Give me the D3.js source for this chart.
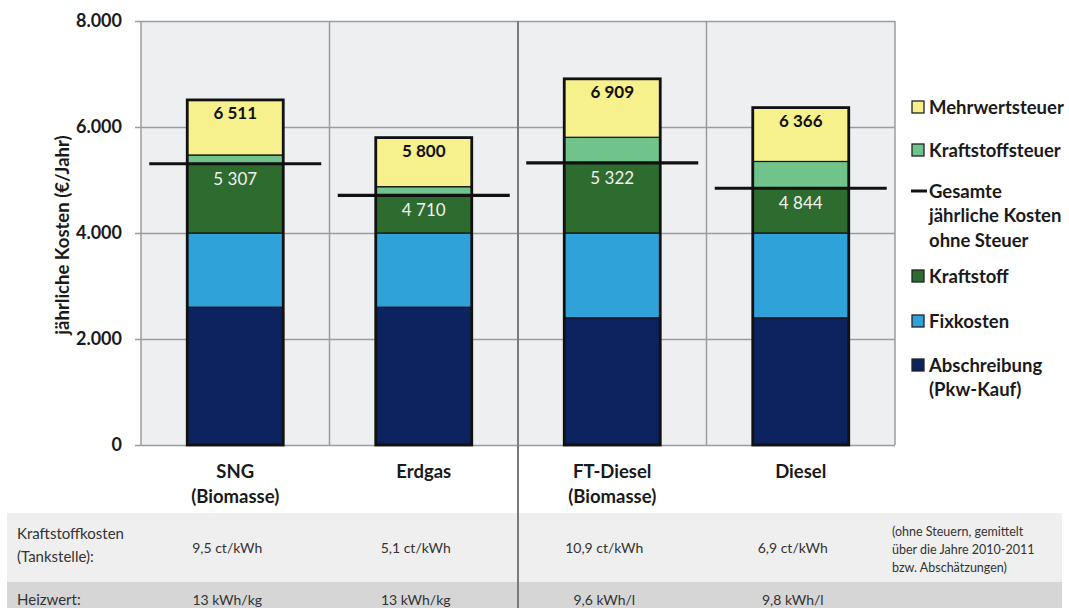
<!DOCTYPE html>
<html>
<head>
<meta charset="utf-8">
<script src="https://cdn.jsdelivr.net/npm/d3@7"></script>
<style>
  body { margin: 0; background: #fff; }
  text { font-family: Lato, "Open Sans", sans-serif; }
</style>
</head>
<body>
<div id="chart"></div>
<script>
// values (€/Jahr)
let categories = ['SNG', 'Erdgas', 'FT-Diesel', 'Diesel'];
let categoryLines = [['SNG', '(Biomasse)'], ['Erdgas'], ['FT-Diesel', '(Biomasse)'], ['Diesel']];
let abschreibung     = [2600, 2600, 2400, 2400];
let fixkosten        = [1400, 1400, 1600, 1600];
let kraftstoff       = [1307,  710, 1322,  844];
let kraftstoffsteuer = [ 165,  164,  484,  506];
let mehrwertsteuer   = [1039,  926, 1103, 1016];
let yTicks = [0, 2000, 4000, 6000, 8000];

let kraftstoffkosten = ['9,5 ct/kWh', '5,1 ct/kWh', '10,9 ct/kWh', '6,9 ct/kWh'];
let heizwert = ['13 kWh/kg', '13 kWh/kg', '9,6 kWh/l', '9,8 kWh/l'];
let tableNote = ['(ohne Steuern, gemittelt', 'über die Jahre 2010-2011', 'bzw. Abschätzungen)'];

let keys = ['Abschreibung', 'Fixkosten', 'Kraftstoff', 'Kraftstoffsteuer', 'Mehrwertsteuer'];
let colors = ['#0c2360', '#30a2da', '#2e6b2f', '#70c38a', '#f6f08d'];

let legendItems = [
    {lines: ['Mehrwertsteuer'], color: '#f6f08d'},
    {lines: ['Kraftstoffsteuer'], color: '#70c38a'},
    {lines: ['Gesamte', 'jährliche Kosten', 'ohne Steuer'], line: true},
    {lines: ['Kraftstoff'], color: '#2e6b2f'},
    {lines: ['Fixkosten'], color: '#30a2da'},
    {lines: ['Abschreibung', '(Pkw-Kauf)'], color: '#0c2360'}
];

// configuration of svg/plot area
let config = {
    svg: {width: 1069, height: 608},
    plot: {left: 141, right: 895, top: 21, bottom: 445}
};

let rows = categories.map((c, i) => ({
    cat: c,
    Abschreibung: abschreibung[i],
    Fixkosten: fixkosten[i],
    Kraftstoff: kraftstoff[i],
    Kraftstoffsteuer: kraftstoffsteuer[i],
    Mehrwertsteuer: mehrwertsteuer[i]
}));

let series = d3.stack().keys(keys)(rows);

let x = d3.scaleBand()
    .domain(categories)
    .range([config.plot.left, config.plot.right]);

let y = d3.scaleLinear()
    .domain([0, 8000])
    .range([config.plot.bottom, config.plot.top]);

let color = d3.scaleOrdinal().domain(keys).range(colors);

let de = d3.formatLocale({decimal: ',', thousands: '.', grouping: [3], currency: ['', '€']});
let deSpace = d3.formatLocale({decimal: ',', thousands: ' ', grouping: [3], currency: ['', '€']});
let tickFmt = de.format(',d');
let valFmt = deSpace.format(',d');

let barW = 96;
let lineHalf = 86;

let svg = d3.select('#chart').append('svg')
    .attr('width', config.svg.width)
    .attr('height', config.svg.height);

// table rows below the chart
svg.append('rect').attr('x', 7).attr('y', 513).attr('width', 1055).attr('height', 69).attr('fill', '#efefef');
svg.append('rect').attr('x', 7).attr('y', 582).attr('width', 1055).attr('height', 26).attr('fill', '#d6d6d6');

// plot background
svg.append('rect')
    .attr('x', config.plot.left)
    .attr('y', config.plot.top)
    .attr('width', config.plot.right - config.plot.left)
    .attr('height', config.plot.bottom - config.plot.top)
    .attr('fill', '#eeeff1');

// horizontal grid + y axis
let yAxis = g => g
    .attr('transform', `translate(${config.plot.left},0)`)
    .call(d3.axisLeft(y).tickValues(yTicks).tickFormat(tickFmt)
        .tickSize(-(config.plot.right - config.plot.left)).tickPadding(19))
    .call(g => g.select('.domain').remove())
    .call(g => g.selectAll('.tick line').attr('stroke', '#9c9c9c').attr('stroke-width', 1.5).attr('x1', -6))
    .call(g => g.selectAll('.tick text')
        .attr('font-size', 18).attr('font-weight', 'bold').attr('fill', '#1a1a1a'));
svg.append('g').call(yAxis);

// vertical grid lines at band edges
let edges = categories.map(c => x(c)).concat([config.plot.right]);
svg.append('g')
    .selectAll('line')
    .data(edges)
    .join('line')
        .attr('x1', d => d).attr('x2', d => d)
        .attr('y1', config.plot.top)
        .attr('y2', (d, i) => i === 2 ? config.svg.height : config.plot.bottom)
        .attr('stroke', (d, i) => i === 2 ? '#7a7a7a' : '#9c9c9c')
        .attr('stroke-width', (d, i) => i === 2 ? 2 : 1.5);

// stacked bars
svg.append('g')
    .selectAll('g')
    .data(series)
    .join('g')
        .attr('fill', d => color(d.key))
    .selectAll('rect')
    .data(d => d)
    .join('rect')
        .attr('x', d => x(d.data.cat) + (x.bandwidth() - barW) / 2)
        .attr('y', d => y(d[1]))
        .attr('width', barW)
        .attr('height', d => y(d[0]) - y(d[1]))
        .attr('stroke', '#111')
        .attr('stroke-width', 1.2);

let totals = rows.map(r => d3.sum(keys, k => r[k]));
let ohneSteuer = rows.map(r => r.Abschreibung + r.Fixkosten + r.Kraftstoff);

// outline of each bar
svg.append('g')
    .selectAll('rect')
    .data(categories)
    .join('rect')
        .attr('x', c => x(c) + (x.bandwidth() - barW) / 2)
        .attr('y', (c, i) => y(totals[i]))
        .attr('width', barW)
        .attr('height', (c, i) => y(0) - y(totals[i]))
        .attr('fill', 'none')
        .attr('stroke', '#111')
        .attr('stroke-width', 2.8);

// total cost without taxes line
svg.append('g')
    .selectAll('line')
    .data(categories)
    .join('line')
        .attr('x1', c => x(c) + x.bandwidth() / 2 - lineHalf)
        .attr('x2', c => x(c) + x.bandwidth() / 2 + lineHalf)
        .attr('y1', (c, i) => y(ohneSteuer[i]))
        .attr('y2', (c, i) => y(ohneSteuer[i]))
        .attr('stroke', '#111')
        .attr('stroke-width', 3.2);

// labels on bars
svg.append('g')
    .selectAll('text')
    .data(categories)
    .join('text')
        .attr('x', c => x(c) + x.bandwidth() / 2)
        .attr('y', (c, i) => y(totals[i]) + 19)
        .attr('text-anchor', 'middle')
        .attr('font-size', 17)
        .attr('font-weight', 'bold')
        .attr('fill', '#111')
        .text((c, i) => valFmt(totals[i]));

svg.append('g')
    .selectAll('text')
    .data(categories)
    .join('text')
        .attr('x', c => x(c) + x.bandwidth() / 2)
        .attr('y', (c, i) => y(ohneSteuer[i]) + 21)
        .attr('text-anchor', 'middle')
        .attr('font-size', 17)
        .attr('fill', '#f2f2f2')
        .text((c, i) => valFmt(ohneSteuer[i]));

// category labels
svg.append('g')
    .selectAll('text')
    .data(categories)
    .join('text')
        .attr('x', c => x(c) + x.bandwidth() / 2)
        .attr('y', 478)
        .attr('text-anchor', 'middle')
        .attr('font-size', 18.5)
        .attr('font-weight', 'bold')
        .attr('fill', '#1a1a1a')
    .selectAll('tspan')
    .data((c, i) => categoryLines[i])
    .join('tspan')
        .attr('x', function() { return this.parentNode.getAttribute('x'); })
        .attr('dy', (d, j) => j === 0 ? 0 : 25)
        .text(d => d);

// y axis title
svg.append('text')
    .attr('transform', 'translate(69,235) rotate(-90)')
    .attr('text-anchor', 'middle')
    .attr('font-size', 18.5)
    .attr('font-weight', 'bold')
    .attr('fill', '#1a1a1a')
    .text('jährliche Kosten (€/Jahr)');

// legend
let legendY = [107, 150, 191, 276, 321, 365];
let legend = svg.append('g')
    .selectAll('g')
    .data(legendItems)
    .join('g')
        .attr('transform', (d, i) => `translate(912,${legendY[i]})`);

legend.filter(d => !d.line).append('rect')
    .attr('x', 0).attr('y', -6)
    .attr('width', 12).attr('height', 12)
    .attr('fill', d => d.color)
    .attr('stroke', '#222').attr('stroke-width', 1.3);

legend.filter(d => d.line).append('line')
    .attr('x1', -1).attr('x2', 15)
    .attr('stroke', '#111').attr('stroke-width', 3);

legend.append('text')
    .attr('x', 17)
    .attr('y', 6.5)
    .attr('font-size', 18.5)
    .attr('font-weight', 'bold')
    .attr('fill', '#1a1a1a')
    .selectAll('tspan')
    .data(d => d.lines)
    .join('tspan')
        .attr('x', 17)
        .attr('dy', (d, j) => j === 0 ? 0 : 24.5)
        .text(d => d);

// table texts
let table = svg.append('g').attr('font-size', 14).attr('fill', '#333');
table.append('text').attr('x', 17).attr('y', 539).attr('font-size', 15).text('Kraftstoffkosten');
table.append('text').attr('x', 17).attr('y', 562).attr('font-size', 15).text('(Tankstelle):');
table.append('text').attr('x', 17).attr('y', 605).attr('font-size', 15).text('Heizwert:');

table.selectAll('.kk')
    .data(kraftstoffkosten)
    .join('text')
        .attr('class', 'kk')
        .attr('x', (d, i) => x(categories[i]) + x.bandwidth() / 2 - 8)
        .attr('y', 553)
        .attr('text-anchor', 'middle')
        .text(d => d);

table.selectAll('.hw')
    .data(heizwert)
    .join('text')
        .attr('class', 'hw')
        .attr('x', (d, i) => x(categories[i]) + x.bandwidth() / 2 - 8)
        .attr('y', 605)
        .attr('text-anchor', 'middle')
        .text(d => d);

table.selectAll('.note')
    .data(tableNote)
    .join('text')
        .attr('class', 'note')
        .attr('x', 892)
        .attr('y', (d, i) => 536 + i * 18)
        .attr('font-size', 12.5)
        .text(d => d);
</script>
</body>
</html>
